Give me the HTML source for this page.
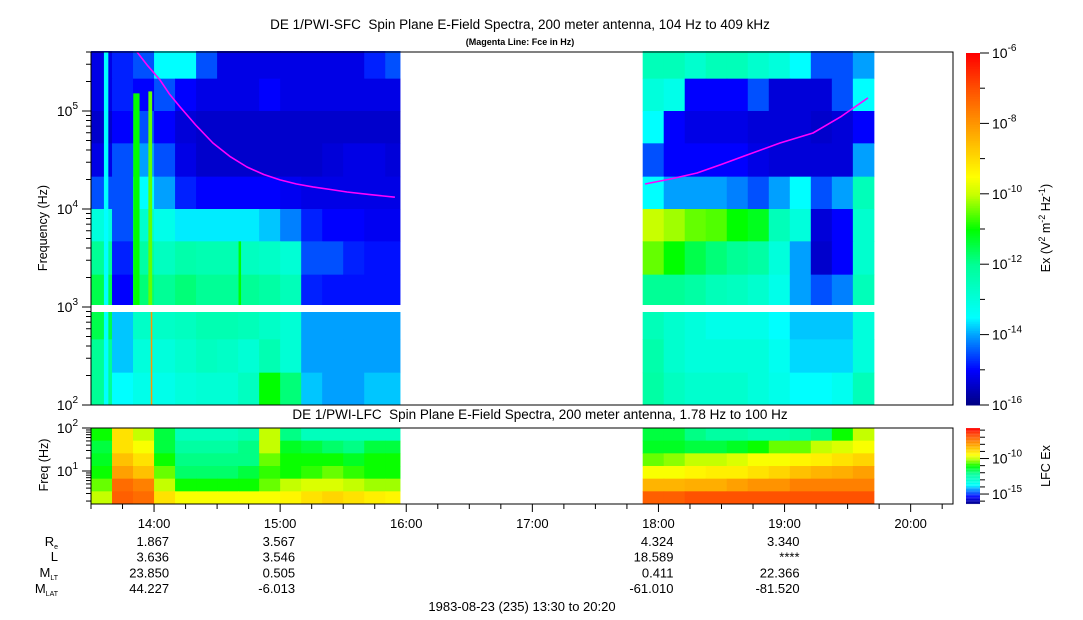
<!DOCTYPE html>
<html><head><meta charset="utf-8"><style>
html,body{margin:0;padding:0;background:#fff;}
svg{display:block;font-family:"Liberation Sans",sans-serif;}
</style></head><body>
<svg id="chart" width="1083" height="620" viewBox="0 0 1083 620" xmlns="http://www.w3.org/2000/svg">
<text x="520" y="29" font-size="13.5" text-anchor="middle">DE 1/PWI-SFC&#160; Spin Plane E-Field Spectra, 200 meter antenna, 104 Hz to 409 kHz</text>
<text x="520" y="45" font-size="9" font-weight="bold" text-anchor="middle">(Magenta Line: Fce in Hz)</text>
<text x="540" y="419" font-size="13.5" text-anchor="middle">DE 1/PWI-LFC&#160; Spin Plane E-Field Spectra, 200 meter antenna, 1.78 Hz to 100 Hz</text>
<g id="sfc"></g>
<g id="lfc"></g>
<g id="axes"></g>
<text transform="translate(47,228) rotate(-90)" font-size="12.5" text-anchor="middle">Frequency (Hz)</text>
<text transform="translate(48,465) rotate(-90)" font-size="12.5" text-anchor="middle">Freq (Hz)</text>
<text transform="translate(1050,228) rotate(-90)" font-size="12.5" text-anchor="middle">Ex (V<tspan font-size="9" dy="-5">2</tspan><tspan dy="5"> m</tspan><tspan font-size="9" dy="-5">-2</tspan><tspan dy="5"> Hz</tspan><tspan font-size="9" dy="-5">-1</tspan><tspan dy="5">)</tspan></text>
<text transform="translate(1050,466) rotate(-90)" font-size="12.5" text-anchor="middle">LFC Ex</text>
<g font-size="13" text-anchor="end">
<text x="58" y="546">R<tspan font-size="7" dy="3">e</tspan></text>
<text x="58" y="561">L</text>
<text x="58" y="577">M<tspan font-size="7" dy="3">LT</tspan></text>
<text x="58" y="593">M<tspan font-size="7" dy="3">LAT</tspan></text>
</g>
<g id="eph" font-size="13" text-anchor="end"></g>
<text x="522" y="611" font-size="13" text-anchor="middle">1983-08-23 (235) 13:30 to 20:20</text>
</svg>
<script>
// ---- data ----
const segStarts = [13.5, 17.875];
const segEnds = [15.95, 19.72];
const binHours = 1/6;
// SFC row edges (log10 Hz), top to bottom
const sfcRowEdges = [5.612, 5.33, 5.0, 4.67, 4.33, 4.0, 3.67, 3.33, 3.0, 2.67, 2.33, 2.0];
const sfcLeft = [
[-15.2,-14.8,-14.5,-13.5,-13.5,-14.5,-15.2,-15.2,-15.2,-15.2,-15.2,-15.2,-15.2,-14.8,-14.5],
[-15.2,-14.8,-15,-14.5,-15,-15.2,-15.2,-15.2,-15,-15.2,-15.2,-15.2,-15.2,-15.2,-15.2],
[-15.4,-15,-14.5,-15,-15.3,-15.4,-15.4,-15.4,-15.4,-15.4,-15.4,-15.4,-15.4,-15.4,-15.4],
[-15.2,-14.5,-14,-14.5,-15.2,-15.4,-15.4,-15.4,-15.4,-15.4,-15.4,-15.3,-15.2,-15.2,-15.3],
[-14.5,-14.5,-13.5,-14,-14.8,-15,-15,-15,-15,-15.1,-15.2,-15.2,-15.2,-15.2,-15.2],
[-13,-14.5,-12.8,-13.2,-13.6,-13.6,-13.6,-13.6,-13.8,-14.2,-14.8,-15,-15,-15.1,-15.1],
[-12,-14.8,-12.2,-12.6,-12.3,-12.4,-12.4,-12.6,-12.7,-12.9,-14.5,-14.5,-14.8,-14.9,-14.9],
[-11.5,-15,-11.8,-12,-11.8,-12,-12,-12,-12.2,-12.5,-14.8,-14.9,-14.9,-14.9,-14.9],
[-11.5,-13.8,-12.7,-12.7,-12.6,-12.4,-12.4,-12.5,-12.7,-12.9,-14,-14,-14,-14,-14],
[-12,-13.8,-13,-13,-12.8,-12.6,-12.7,-12.9,-12.4,-12.9,-14,-14,-14,-14,-14],
[-12,-13.5,-13.2,-13.2,-13,-12.9,-12.9,-12.6,-11,-11.8,-13.8,-14,-14,-13.8,-13.8]
];
const sfcRight = [
[-12.5,-12.5,-12.8,-12.5,-12.5,-12.8,-13,-13.5,-14.5,-14.5,-14],
[-13,-13.2,-15,-15,-15,-14.5,-15.3,-15.3,-15.3,-14.5,-13.5],
[-13.5,-15,-15.2,-15.2,-15.2,-15.3,-15.3,-15.3,-15.4,-15.3,-15],
[-14.5,-15,-15,-15,-15,-15.2,-15.3,-15.3,-15.3,-15.3,-14],
[-13.5,-14,-14,-14,-14.2,-14.5,-14,-13.5,-14.5,-14,-12.5],
[-10,-10.2,-10.5,-10.6,-11,-11.2,-12.5,-13,-15.3,-15,-12.8],
[-10.5,-11,-11.5,-11.8,-12,-12.2,-13,-14,-15.4,-15,-12.8],
[-12,-12,-12.2,-12.5,-12.6,-12.8,-13.2,-14,-14.5,-14.2,-12.5],
[-12.5,-12.8,-13,-13.2,-13.2,-13.2,-13.5,-13.8,-13.8,-13.8,-13],
[-12.3,-12.8,-13,-13,-13,-13,-13.3,-13.7,-13.7,-13.7,-13],
[-12.2,-12.6,-12.8,-12.8,-12.8,-13,-13.2,-13.5,-13.5,-13.3,-12.5]
];
// narrow bursts: time (h), width (h), fmin, fmax (log10 Hz), value
const burstTimes = [13.62, 13.86, 13.97, 13.98, 14.68];
const burstWidths = [0.035, 0.05, 0.03, 0.012, 0.02];
const burstFmin = [2.0, 3.0, 3.0, 2.0, 3.0];
const burstFmax = [5.6, 5.18, 5.2, 3.0, 3.67];
const burstValues = [-13.5, -11, -10.5, -8, -11];
// LFC rows top->bottom (6 bands, 1.78-100 Hz)
const lfcLeft = [
[-11,-9,-10,-11.5,-12.7,-12.7,-12.7,-12.5,-10,-12,-12.7,-12.7,-12.7,-12.7,-12.7],
[-11.5,-9,-9.5,-11.5,-12.3,-12.3,-12.3,-12,-10,-11.3,-11.5,-11.8,-12,-11.5,-11.5],
[-11.3,-8.5,-9,-11,-12,-12,-12,-12,-10.5,-11,-11,-11,-11.3,-11,-11],
[-11,-8,-8.5,-10.5,-11.8,-11.8,-11.8,-11.5,-10.8,-11,-10.8,-10.5,-10.8,-11,-11],
[-10.5,-7.2,-7.5,-10,-11,-11,-11,-11,-10.5,-10,-9.8,-9.8,-10,-10.2,-10.2],
[-10,-7,-7.2,-9,-9.5,-9.5,-9.5,-9.5,-9.5,-9.3,-9,-8.8,-9,-9.2,-9.3]
];
const lfcRight = [
[-11.5,-11.5,-12,-12.3,-12.3,-12.5,-12.5,-12.3,-12,-11,-10],
[-11.3,-11.3,-11.5,-11.5,-11.3,-11,-10.5,-10.5,-10,-9.8,-9.5],
[-10.5,-10.3,-10,-10,-9.8,-9.5,-9.5,-9.3,-9.2,-9,-8.8],
[-9.5,-9.5,-9.3,-9.2,-9.2,-9,-8.8,-8.5,-8.3,-8.2,-8],
[-8.3,-8.3,-8.2,-8.2,-8,-7.8,-7.8,-7.5,-7.5,-7.5,-7.5],
[-7,-7,-6.8,-6.8,-6.8,-6.8,-6.8,-6.8,-6.8,-6.8,-6.8]
];
// Fce line
const fceLeftTimes = [13.865,13.95,14.047,14.12,14.206,14.33,14.467,14.6,14.737,14.87,14.999,15.13,15.26,15.4,15.53,15.72,15.91];
const fceLeftHz = [400000,290000,207000,150000,110000,72000,47100,34500,26800,22500,19800,18000,16800,15800,14900,14000,13200];
const fceRightTimes = [17.893,18.1,18.306,18.5,18.702,18.964,19.226,19.45,19.662];
const fceRightHz = [18000,20300,23300,28500,35600,47100,59700,88000,136000];
const hourLabels = ["14:00","15:00","16:00","17:00","18:00","19:00","20:00"];
const hourValues = [14,15,16,17,18,19,20];
const ephTimes = [14,15,18,19];
const ephRe = ["1.867","3.567","4.324","3.340"];
const ephL = ["3.636","3.546","18.589","****"];
const ephMLT = ["23.850","0.505","0.411","22.366"];
const ephMLAT = ["44.227","-6.013","-61.010","-81.520"];

// ---- scales ----
const X0=91, PXH=126.1;
const xT = t => X0 + (t-13.5)*PXH;
const yF = lf => 405 - (lf-2)*98;
const yL = lf => 428 + (2-lf)*43;
const lfcEdges = [];
for(let i=0;i<=6;i++) lfcEdges.push(428 + i*(504-428)/6);

const stops=[[0,[0,0,128]],[0.1,[0,0,255]],[0.2,[0,160,255]],[0.25,[0,255,255]],[0.4,[0,255,150]],[0.5,[0,255,0]],[0.6,[200,255,0]],[0.65,[255,255,0]],[0.8,[255,150,0]],[0.9,[255,80,0]],[1,[255,0,0]]];
function jet(f){f=Math.max(0,Math.min(1,f));for(let i=1;i<stops.length;i++){if(f<=stops[i][0]){const a=stops[i-1],b=stops[i];const u=(f-a[0])/(b[0]-a[0]);const c=a[1].map((v,k)=>Math.round(v+(b[1][k]-v)*u));return `rgb(${c[0]},${c[1]},${c[2]})`;}}return 'rgb(255,0,0)';}
const cSFC = v => jet((v+16)/10);
const cLFC = v => jet((v+16.4)/10.7);

const NS="http://www.w3.org/2000/svg";
function mk(tag,attrs,parent){const e=document.createElementNS(NS,tag);for(const k in attrs)e.setAttribute(k,attrs[k]);parent.appendChild(e);return e;}
const sfc=document.getElementById('sfc'), lfc=document.getElementById('lfc'), axes=document.getElementById('axes');

[sfcLeft,sfcRight].forEach((grid,s)=>{
  grid.forEach((row,r)=>{
    row.forEach((v,c)=>{
      const t0=segStarts[s]+c*binHours, t1=Math.min(segStarts[s]+(c+1)*binHours, segEnds[s]);
      const x0=xT(t0), x1=xT(t1), y0=yF(sfcRowEdges[r]), y1=yF(sfcRowEdges[r+1]);
      const el=mk('rect',{x:x0,y:y0,width:x1-x0+0.5,height:y1-y0+0.5,fill:cSFC(v)},sfc);
      
      
    });
  });
});
burstTimes.forEach((t,i)=>{
  const el=mk('rect',{x:xT(t-burstWidths[i]/2),y:yF(burstFmax[i]),width:burstWidths[i]*PXH,height:yF(burstFmin[i])-yF(burstFmax[i]),fill:cSFC(burstValues[i])},sfc);
  
  
});
const gap=mk('rect',{x:X0,y:305,width:862,height:7,fill:'#fff'},sfc);



[[fceLeftTimes,fceLeftHz],[fceRightTimes,fceRightHz]].forEach((p,i)=>{
  const pts=p[0].map((t,k)=>xT(t).toFixed(1)+','+yF(Math.log10(p[1][k])).toFixed(1)).join(' ');
  const el=mk('polyline',{points:pts,fill:'none',stroke:'#ff00ff','stroke-width':1.6,'stroke-linejoin':'round'},sfc);
  
  
});

[lfcLeft,lfcRight].forEach((grid,s)=>{
  grid.forEach((row,r)=>{
    row.forEach((v,c)=>{
      const t0=segStarts[s]+c*binHours, t1=Math.min(segStarts[s]+(c+1)*binHours, segEnds[s]);
      const x0=xT(t0), x1=xT(t1);
      const el=mk('rect',{x:x0,y:lfcEdges[r],width:x1-x0+0.5,height:lfcEdges[r+1]-lfcEdges[r]+0.5,fill:cLFC(v)},lfc);
      
      
    });
  });
});

const f1=mk('rect',{x:X0,y:52,width:862,height:353,fill:'none',stroke:'#000','stroke-width':1},axes);


const f2=mk('rect',{x:X0,y:428,width:862,height:76,fill:'none',stroke:'#000','stroke-width':1},axes);



for(let d=2;d<=5;d++){for(let m=1;m<=9;m++){const lf=d+Math.log10(m);if(lf>5.612)break;const y=yF(lf);const len=m===1?9:5;
  const tk=mk('line',{x1:X0-len,y1:y,x2:X0,y2:y,stroke:'#000'},axes);
  
  
  if(m===1){const tx=mk('text',{x:X0-13,y:y+5,'font-size':14,'text-anchor':'end'},axes);tx.innerHTML='10<tspan font-size="10" dy="-7">'+d+'</tspan>';
  
  }
}}
for(let d=0;d<=2;d++){for(let m=1;m<=9;m++){const lf=d+Math.log10(m);if(lf<0.25||lf>2)continue;const y=yL(lf);const len=m===1?9:5;
  const tk=mk('line',{x1:X0-len,y1:y,x2:X0,y2:y,stroke:'#000'},axes);
  
  
  if(m===1){const tx=mk('text',{x:X0-13,y:y+5,'font-size':14,'text-anchor':'end'},axes);tx.innerHTML='10<tspan font-size="10" dy="-7">'+d+'</tspan>';
  
  }
}}
for(let t=13.5;t<=20.34;t+=0.25){const x=xT(t);const major=Math.abs(t-Math.round(t))<1e-6;
  const tk=mk('line',{x1:x,y1:504,x2:x,y2:504+(major?8:5),stroke:'#000'},axes);
  
  
}
hourValues.forEach((h,i)=>{const tx=mk('text',{x:xT(h),y:528,'font-size':13,'text-anchor':'middle'},axes);tx.textContent=hourLabels[i];
  
  });
const eph=document.getElementById('eph');
[ephRe,ephL,ephMLT,ephMLAT].forEach((arr,r)=>{arr.forEach((v,i)=>{const tx=mk('text',{x:xT(ephTimes[i])+15,y:546+r*15.7},eph);tx.textContent=v;
  
  });});

const CB=966, CBW=14;
for(let i=0;i<200;i++){const y=53+i*(405-53)/200;const r=mk('rect',{x:CB,y:y,width:CBW,height:(405-53)/200+0.5,fill:cSFC(-6-10*i/200)},axes);
  
  }
for(let i=0;i<100;i++){const y=428+i*76/100;const r=mk('rect',{x:CB,y:y,width:CBW,height:0.8,fill:cLFC(-5.7-10.7*i/100)},axes);
  
  }
for(let k=0;k<=10;k++){const y=53+k*35.2;const tk=mk('line',{x1:CB+CBW,y1:y,x2:CB+CBW+(k%2?5:9),y2:y,stroke:'#000'},axes);
  
  
  if(k%2===0){const tx=mk('text',{x:992,y:y+5,'font-size':14},axes);tx.innerHTML='10<tspan font-size="10" dy="-7">'+(-6-k)+'</tspan>';
  
  }}
[-6,-7,-8,-9,-10,-11,-12,-13,-14,-15,-16].forEach(v=>{const y=428+(-5.7-v)*7.1;if(y>504)return;const major=(v===-10||v===-15);
  const tk=mk('line',{x1:CB+CBW,y1:y,x2:CB+CBW+(major?9:5),y2:y,stroke:'#000'},axes);
  
  
  if(major){const tx=mk('text',{x:992,y:y+5,'font-size':14},axes);tx.innerHTML='10<tspan font-size="10" dy="-7">'+v+'</tspan>';
  
  }});
</script>
</body></html>
